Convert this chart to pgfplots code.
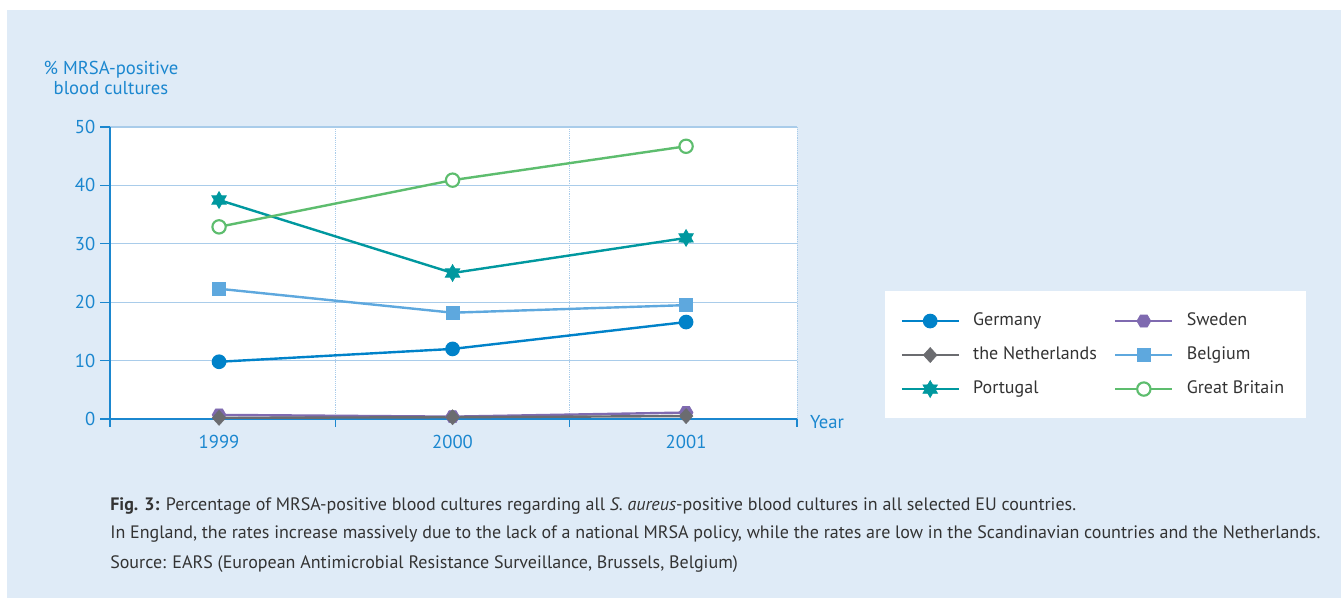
\documentclass[border=0pt]{standalone}
\usepackage{pgfplots}
\pgfplotsset{compat=1.18}
\usepackage{fontspec}
\setmainfont{PT Sans}
\definecolor{bg}{HTML}{DFEBF7}
\definecolor{axblue}{HTML}{1B87CF}
\definecolor{gridc}{HTML}{A9CCEA}
\definecolor{cGer}{HTML}{0082C9}
\definecolor{cNed}{HTML}{6B6C70}
\definecolor{cPor}{HTML}{00989F}
\definecolor{cSwe}{HTML}{7F6AB0}
\definecolor{cBel}{HTML}{5EA8DE}
\definecolor{cGB}{HTML}{5DBD6E}
\definecolor{txt}{HTML}{333333}
\pgfdeclareplotmark{hexstar}{%
  \pgfpathmoveto{\pgfpointpolar{90}{\pgfplotmarksize}}%
  \pgfpathlineto{\pgfpointpolar{120}{0.58\pgfplotmarksize}}%
  \pgfpathlineto{\pgfpointpolar{150}{\pgfplotmarksize}}%
  \pgfpathlineto{\pgfpointpolar{180}{0.58\pgfplotmarksize}}%
  \pgfpathlineto{\pgfpointpolar{210}{\pgfplotmarksize}}%
  \pgfpathlineto{\pgfpointpolar{240}{0.58\pgfplotmarksize}}%
  \pgfpathlineto{\pgfpointpolar{270}{\pgfplotmarksize}}%
  \pgfpathlineto{\pgfpointpolar{300}{0.58\pgfplotmarksize}}%
  \pgfpathlineto{\pgfpointpolar{330}{\pgfplotmarksize}}%
  \pgfpathlineto{\pgfpointpolar{0}{0.58\pgfplotmarksize}}%
  \pgfpathlineto{\pgfpointpolar{30}{\pgfplotmarksize}}%
  \pgfpathlineto{\pgfpointpolar{60}{0.58\pgfplotmarksize}}%
  \pgfpathclose\pgfusepathqfillstroke}
\pgfdeclareplotmark{hexagon}{%
  \pgfpathmoveto{\pgfpointpolar{0}{\pgfplotmarksize}}%
  \pgfpathlineto{\pgfpointpolar{60}{\pgfplotmarksize}}%
  \pgfpathlineto{\pgfpointpolar{120}{\pgfplotmarksize}}%
  \pgfpathlineto{\pgfpointpolar{180}{\pgfplotmarksize}}%
  \pgfpathlineto{\pgfpointpolar{240}{\pgfplotmarksize}}%
  \pgfpathlineto{\pgfpointpolar{300}{\pgfplotmarksize}}%
  \pgfpathclose\pgfusepathqfillstroke}
\pgfdeclareplotmark{rdiamond}{%
  \pgfpathmoveto{\pgfpointpolar{90}{1.1\pgfplotmarksize}}%
  \pgfpathlineto{\pgfpointpolar{180}{\pgfplotmarksize}}%
  \pgfpathlineto{\pgfpointpolar{270}{1.1\pgfplotmarksize}}%
  \pgfpathlineto{\pgfpointpolar{0}{\pgfplotmarksize}}%
  \pgfpathclose\pgfusepathqfillstroke}
\begin{document}
\begin{tikzpicture}
\fill[white] (0,0) rectangle (1005.75pt,448.5pt);
\fill[bg] (5.25pt,0) rectangle (1005.75pt,441pt);
% legend box
\fill[white] (663.75pt,135pt) rectangle (979.5pt,230.25pt);
\node[axblue, align=center, font=\fontsize{14}{15.5}\selectfont] at (83.25pt,390pt) {\% MRSA-positive\\blood cultures};
\node[axblue, anchor=west, font=\fontsize{14}{16}\selectfont] at (604pt,132pt) {Year};
\begin{axis}[
  at={(82.5pt,134.25pt)}, anchor=south west,
  scale only axis, width=515.25pt, height=219pt,
  xmin=1998.533, xmax=2001.475, ymin=0, ymax=50,
  axis lines*=left,
  axis line style={axblue, line width=0.9pt},
  axis background/.style={fill=white},
  xtick={1999,2000,2001}, xticklabels={1999,2000,2001},
  minor xtick={1998.533,1999.5,2000.5,2001.475},
  major x tick style={draw=none},
  minor tick length=6pt, major tick length=7.5pt,
  tick align=outside,
  tick style={axblue, line width=0.9pt},
  ytick={0,10,20,30,40,50},
  ymajorgrids, xminorgrids,
  major grid style={gridc, line width=0.8pt},
  minor grid style={gridc, densely dotted, line width=0.7pt},
  ticklabel style={axblue, font=\fontsize{14}{16}\selectfont},
  /pgf/number format/assume math mode=true,
  xticklabel style={yshift=-1pt},
  clip=false,
  every axis plot/.append style={line width=1.8pt},
  legend columns=2,
  legend cell align=left,
  legend style={at={(1.1445,0.219)}, anchor=west, draw=none, fill=none,
    font=\fontsize{13.5}{15}\selectfont, text=txt,
    nodes={inner sep=0pt, text height=10pt, text depth=3pt},
    row sep=12.5pt, column sep=10pt,
    /tikz/every even column/.append style={column sep=13pt}},
  legend image code/.code={\draw[mark repeat=2,mark phase=2] plot coordinates {(0cm,0cm) (0.75cm,0cm) (1.5cm,0cm)};},
]
\addplot[cGer, mark=*, mark size=4.6pt] coordinates {(1999,9.8) (2000,12.0) (2001,16.6)};
\addlegendentry{Germany}
\addplot[cSwe, mark=hexagon, mark size=5.2pt, mark options={line width=0.5pt}] coordinates {(1999,0.7) (2000,0.4) (2001,1.1)};
\addlegendentry{Sweden}
\addplot[cNed, mark=rdiamond, mark size=5.2pt, mark options={line width=0.3pt}] coordinates {(1999,0.2) (2000,0.3) (2001,0.5)};
\addlegendentry{the Netherlands}
\addplot[cBel, mark=square*, mark size=4.9pt, mark options={line width=0pt}] coordinates {(1999,22.3) (2000,18.2) (2001,19.5)};
\addlegendentry{Belgium}
\addplot[cPor, mark=hexstar, mark size=6.3pt, mark options={line width=0.5pt}] coordinates {(1999,37.5) (2000,25.0) (2001,31.0)};
\addlegendentry{Portugal}
\addplot[cGB, mark=*, mark size=5pt, mark options={fill=white, line width=1.6pt}] coordinates {(1999,32.9) (2000,40.9) (2001,46.7)};
\addlegendentry{Great Britain}
\end{axis}
\begin{scope}[txt, font=\fontsize{13.5}{15}\selectfont]
\node[anchor=base west, inner sep=0pt] at (82.5pt,65.25pt) {\textbf{Fig. 3:} Percentage of MRSA-positive blood cultures regarding all \textit{S. aureus}-positive blood cultures in all selected EU countries.};
\node[anchor=base west, inner sep=0pt] at (82.5pt,44.25pt) {In England, the rates increase massively due to the lack of a national MRSA policy, while the rates are low in the Scandinavian countries and the Netherlands.};
\node[anchor=base west, inner sep=0pt] at (82.5pt,21.75pt) {Source: EARS (European Antimicrobial Resistance Surveillance, Brussels, Belgium)};
\end{scope}
\end{tikzpicture}
\end{document}
